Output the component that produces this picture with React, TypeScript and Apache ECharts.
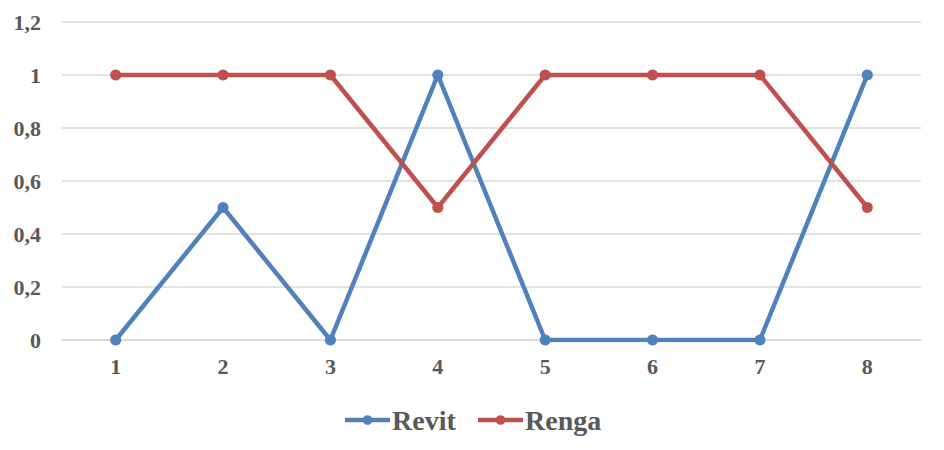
import React, { useEffect, useRef } from "react";
import * as echarts from "echarts";

const categories = ["1", "2", "3", "4", "5", "6", "7", "8"];
const revit = [0, 0.5, 0, 1, 0, 0, 0, 1];
const renga = [1, 1, 1, 0.5, 1, 1, 1, 0.5];

const FONT = "'Liberation Serif', 'Times New Roman', serif";
const TEXT = "#595959";

export default function App() {
  const ref = useRef<HTMLDivElement>(null);
  useEffect(() => {
    document.body.style.margin = "0";
    const chart = echarts.init(ref.current!, null, { renderer: "svg" });
    chart.setOption({
      animation: false,
      backgroundColor: "#ffffff",
      grid: { left: 62, right: 23, top: 22, bottom: 110, containLabel: false },
      xAxis: {
        type: "category",
        data: categories,
        boundaryGap: true,
        axisLine: { lineStyle: { color: "#d9d9d9", width: 1.5 } },
        axisTick: { show: false },
        axisLabel: { color: TEXT, fontFamily: FONT, fontWeight: "bold", fontSize: 22, margin: 15 },
      },
      yAxis: {
        type: "value",
        min: 0,
        max: 1.2,
        interval: 0.2,
        axisLine: { show: false },
        axisTick: { show: false },
        splitLine: { lineStyle: { color: "#d9d9d9", width: 1.5 } },
        axisLabel: {
          color: TEXT,
          fontFamily: FONT,
          fontWeight: "bold",
          fontSize: 22,
          margin: 21,
          formatter: (v: number) => String(Math.round(v * 10) / 10).replace(".", ","),
        },
      },
      legend: {
        top: 401,
        left: "center",
        itemWidth: 45,
        itemHeight: 12,
        itemGap: 20,
        lineStyle: { width: 4.5 },
        textStyle: { color: TEXT, fontFamily: FONT, fontWeight: "bold", fontSize: 28, padding: [0, 0, 0, -3] },
        data: ["Revit", "Renga"],
      },
      series: [
        {
          name: "Revit",
          type: "line",
          data: revit,
          color: "#4f81bd",
          symbol: "circle",
          symbolSize: 11,
          lineStyle: { width: 4.5 },
        },
        {
          name: "Renga",
          type: "line",
          data: renga,
          color: "#c0504d",
          symbol: "circle",
          symbolSize: 11,
          lineStyle: { width: 4.5 },
        },
      ],
    });
    return () => chart.dispose();
  }, []);
  return <div ref={ref} style={{ width: 944, height: 450 }} />;
}
